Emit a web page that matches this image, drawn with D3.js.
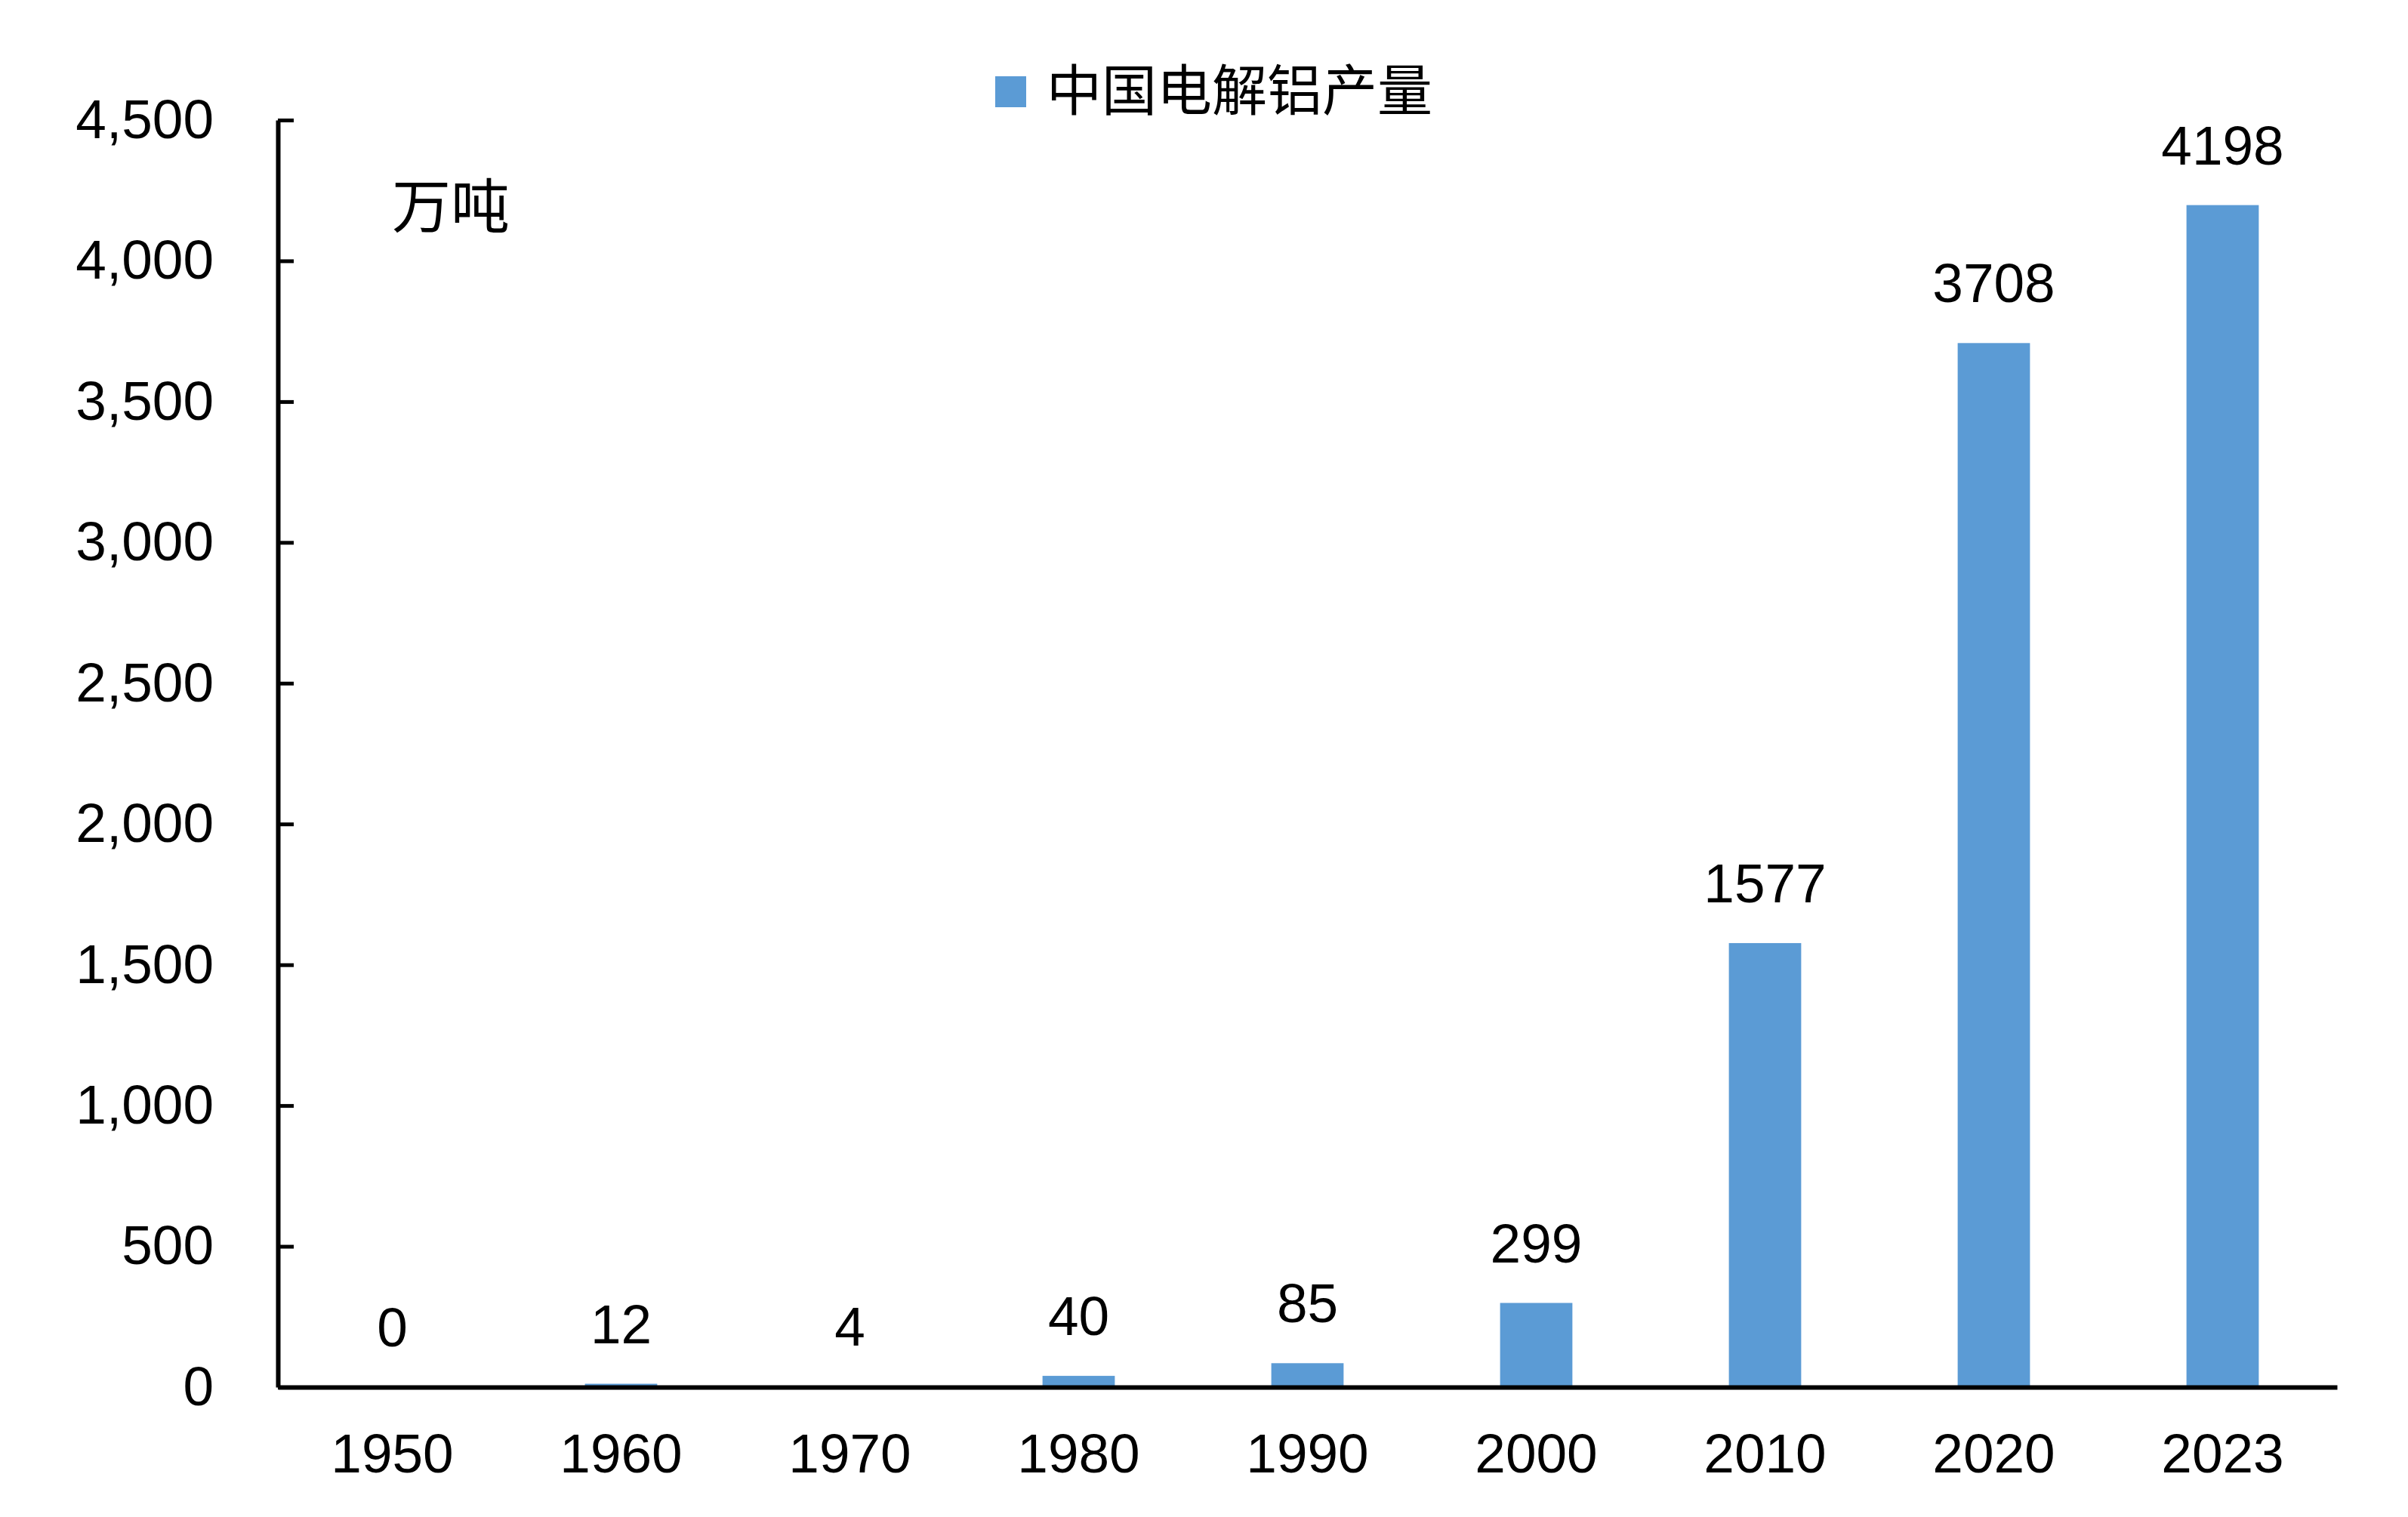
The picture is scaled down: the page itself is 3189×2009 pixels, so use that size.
<!DOCTYPE html>
<html>
<head>
<meta charset="utf-8">
<script src="https://cdn.jsdelivr.net/npm/d3@7"></script>
<style>
  html, body { margin: 0; padding: 0; background: #ffffff; }
  svg { display: block; }
</style>
</head>
<body>
<svg id="chart" width="3189" height="2009"></svg>
<script>
const categories = ["1950", "1960", "1970", "1980", "1990", "2000", "2010", "2020", "2023"];
const values = [0, 12, 4, 40, 85, 299, 1577, 3708, 4198];
const yTicks = [0, 500, 1000, 1500, 2000, 2500, 3000, 3500, 4000, 4500];
const seriesName = "中国电解铝产量";
const unitLabel = "万吨";

(function () {
const latin = "'Liberation Sans', Arial, sans-serif";
const cjk = "'Noto Sans CJK SC', 'Noto Sans', sans-serif";
const barColor = "#5B9BD5";

const svg = d3.select("#chart");
svg.append("rect").attr("width", 3189).attr("height", 2009).attr("fill", "#fff");

const plotLeft = 368, plotRight = 3095, plotTop = 159, plotBottom = 1837;

const x = d3.scaleBand().domain(categories).range([plotLeft, plotRight])
  .paddingInner(0.684).paddingOuter(0.342);
const y = d3.scaleLinear().domain([0, 4500]).range([plotBottom, plotTop]);

// bars
svg.append("g").selectAll("rect").data(values).join("rect")
  .attr("x", (d, i) => x(categories[i]))
  .attr("y", d => y(d))
  .attr("width", x.bandwidth())
  .attr("height", d => y(0) - y(d))
  .attr("fill", barColor);

// value labels
svg.append("g").selectAll("text").data(values).join("text")
  .attr("x", (d, i) => x(categories[i]) + x.bandwidth() / 2)
  .attr("y", d => y(d) - 54)
  .attr("text-anchor", "middle")
  .attr("font-family", latin)
  .attr("font-size", 73)
  .attr("fill", "#000")
  .text(d => d);

// y axis
const yAxis = svg.append("g").attr("transform", `translate(${plotLeft},0)`)
  .call(d3.axisLeft(y).tickValues(yTicks).tickFormat(d3.format(",")).tickSize(-21).tickSizeOuter(0).tickPadding(85));
yAxis.select(".domain").attr("stroke", "#000").attr("stroke-width", 6);
yAxis.selectAll(".tick line").attr("stroke", "#000").attr("stroke-width", 5);
yAxis.selectAll(".tick text").attr("font-family", latin).attr("font-size", 73).attr("fill", "#000");

// x axis
const xAxis = svg.append("g").attr("transform", `translate(0,${plotBottom})`)
  .call(d3.axisBottom(x).tickSize(0).tickSizeOuter(0).tickPadding(61));
xAxis.select(".domain").attr("stroke", "#000").attr("stroke-width", 6);
xAxis.selectAll(".tick text").attr("font-family", latin).attr("font-size", 73).attr("fill", "#000");

// legend
const legend = svg.append("g");
legend.append("rect").attr("x", 1318).attr("y", 101).attr("width", 41).attr("height", 41).attr("fill", barColor);
legend.append("text").attr("x", 1386).attr("y", 114)
  .attr("dominant-baseline", "central")
  .attr("font-family", cjk).attr("font-size", 73).attr("fill", "#000")
  .text(seriesName);

// unit label
svg.append("text").attr("x", 519).attr("y", 268)
  .attr("dominant-baseline", "central")
  .attr("font-family", cjk).attr("font-size", 78).attr("fill", "#000")
  .text(unitLabel);
})();
</script>
</body>
</html>
